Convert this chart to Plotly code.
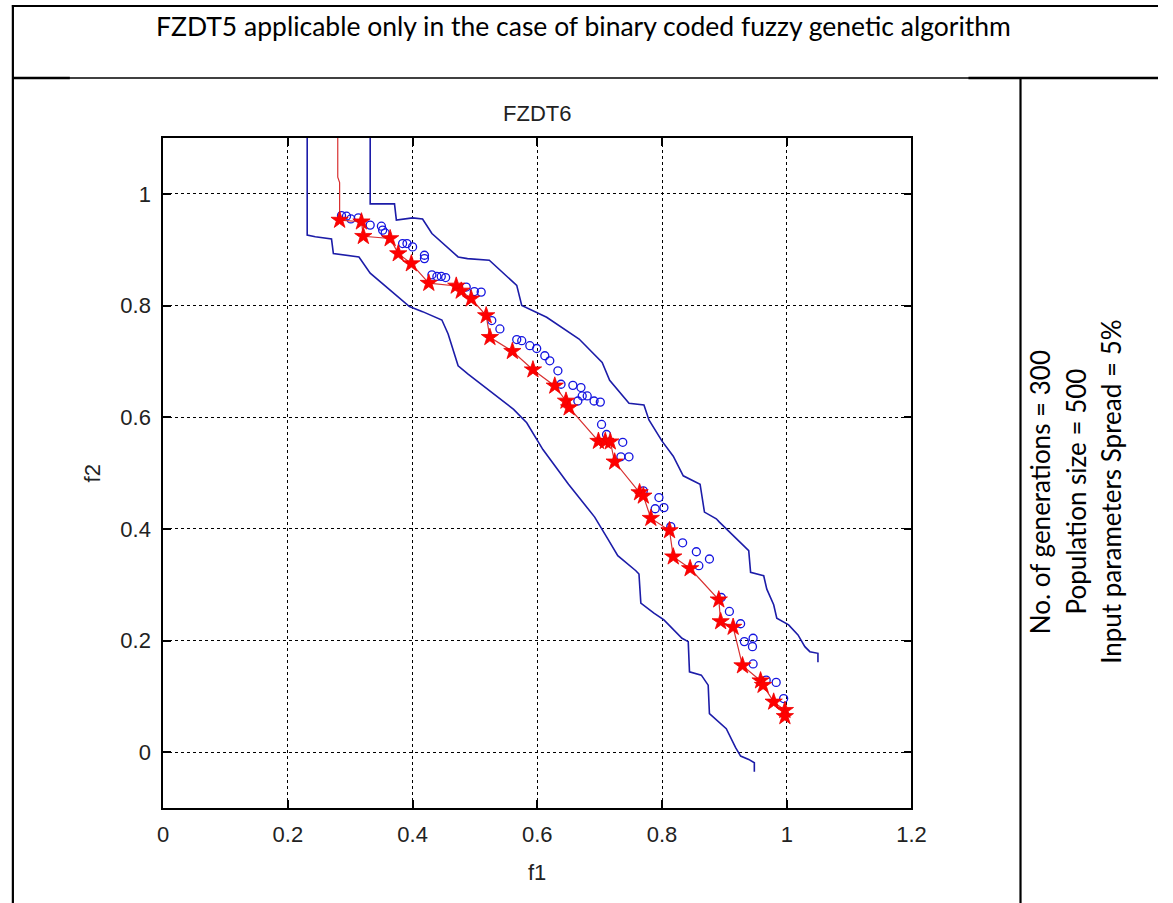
import plotly.graph_objects as go

W, H = 1173, 903

# ---------------- data ----------------
# red solution front (stars joined by a line), first points = vertical tail at top
red_f1 = [0.280, 0.280, 0.283, 0.283, 0.318, 0.321, 0.364, 0.377, 0.398, 0.426, 0.470, 0.478,
          0.494, 0.518, 0.524, 0.560, 0.593, 0.628, 0.646, 0.651, 0.698, 0.709, 0.717,
          0.724, 0.764, 0.770, 0.782, 0.812, 0.818, 0.845, 0.891, 0.894, 0.914, 0.929,
          0.958, 0.962, 0.979, 0.997, 0.997]
red_f2 = [1.100, 1.030, 1.020, 0.953, 0.950, 0.924, 0.920, 0.893, 0.875, 0.840, 0.835, 0.826,
          0.812, 0.782, 0.743, 0.718, 0.685, 0.656, 0.629, 0.617, 0.557, 0.557, 0.556,
          0.520, 0.465, 0.459, 0.419, 0.397, 0.350, 0.329, 0.273, 0.234, 0.224, 0.155,
          0.128, 0.120, 0.090, 0.075, 0.064]
n_red_tail = 3  # points without a star marker

# blue open circles
blue_f1 = [0.286, 0.294, 0.301, 0.313, 0.332, 0.350, 0.352, 0.356, 0.384, 0.391, 0.400, 0.419,
           0.419, 0.431, 0.439, 0.446, 0.453, 0.486, 0.499, 0.510, 0.527, 0.540, 0.567, 0.575,
           0.588, 0.599, 0.612, 0.620, 0.633, 0.638, 0.657, 0.670, 0.672, 0.680, 0.665, 0.691,
           0.701, 0.703, 0.711, 0.737, 0.734, 0.747, 0.770, 0.795, 0.789, 0.803, 0.814, 0.833,
           0.855, 0.876, 0.859, 0.895, 0.908, 0.926, 0.932, 0.946, 0.945, 0.946, 0.967, 0.983,
           0.995]
blue_f2 = [0.961, 0.960, 0.955, 0.957, 0.944, 0.942, 0.935, 0.930, 0.911, 0.911, 0.905, 0.890,
           0.884, 0.855, 0.852, 0.852, 0.850, 0.833, 0.825, 0.824, 0.773, 0.758, 0.739, 0.737,
           0.728, 0.723, 0.710, 0.701, 0.683, 0.659, 0.657, 0.653, 0.638, 0.638, 0.629, 0.629,
           0.627, 0.587, 0.569, 0.555, 0.529, 0.529, 0.468, 0.456, 0.436, 0.438, 0.404, 0.375,
           0.359, 0.346, 0.334, 0.277, 0.252, 0.230, 0.198, 0.204, 0.189, 0.158, 0.129, 0.125,
           0.096]

# lower (left) boundary line
low_f1 = [0.231, 0.231, 0.244, 0.270, 0.273, 0.314, 0.332, 0.395, 0.416, 0.447, 0.457, 0.473,
          0.489, 0.562, 0.583, 0.609, 0.650, 0.692, 0.713, 0.729, 0.758, 0.763, 0.766, 0.787,
          0.803, 0.832, 0.842, 0.844, 0.863, 0.874, 0.876, 0.903, 0.918, 0.926, 0.939, 0.948,
          0.948]
low_f2 = [1.100, 0.926, 0.923, 0.919, 0.893, 0.887, 0.858, 0.798, 0.789, 0.774, 0.749, 0.692,
          0.677, 0.614, 0.590, 0.542, 0.480, 0.421, 0.382, 0.352, 0.325, 0.319, 0.267, 0.249,
          0.237, 0.204, 0.198, 0.144, 0.138, 0.120, 0.069, 0.042, 0.008, -0.007, -0.013,
          -0.019, -0.035]

# upper (right) boundary line
up_f1 = [0.332, 0.332, 0.371, 0.374, 0.400, 0.416, 0.431, 0.473, 0.488, 0.523, 0.567, 0.575,
         0.615, 0.667, 0.704, 0.716, 0.747, 0.771, 0.779, 0.800, 0.818, 0.834, 0.861, 0.868,
         0.887, 0.892, 0.939, 0.942, 0.963, 0.968, 0.979, 0.984, 1.003, 1.018, 1.029, 1.037,
         1.050, 1.050]
up_f2 = [1.100, 0.982, 0.982, 0.953, 0.957, 0.955, 0.929, 0.887, 0.884, 0.881, 0.836, 0.800,
         0.779, 0.740, 0.698, 0.666, 0.625, 0.622, 0.595, 0.557, 0.530, 0.495, 0.480, 0.430,
         0.418, 0.412, 0.361, 0.322, 0.316, 0.292, 0.264, 0.240, 0.228, 0.210, 0.189, 0.180,
         0.177, 0.161]

x_ticks = [0, 0.2, 0.4, 0.6, 0.8, 1.0, 1.2]
x_tick_text = ["0", "0.2", "0.4", "0.6", "0.8", "1", "1.2"]
y_ticks = [0, 0.2, 0.4, 0.6, 0.8, 1.0]
y_tick_text = ["0", "0.2", "0.4", "0.6", "0.8", "1"]

header_text = "FZDT5 applicable only in the case of binary coded fuzzy genetic algorithm"
plot_title = "FZDT6"
side_lines = ["No. of generations = 300", "Population size = 500",
              "Input parameters Spread = 5%"]


def px(x):
    return x / W


def py(y):
    return 1 - y / H


DOC_FONT = "Lato, Carlito, Calibri, 'Open Sans', sans-serif"
MAT_FONT = "'Liberation Sans', Arial, Helvetica, sans-serif"
BLUE_LINE = "#1c1ca8"

fig = go.Figure()

fig.add_trace(go.Scatter(x=low_f1, y=low_f2, mode="lines",
                         line=dict(color=BLUE_LINE, width=1.6), hoverinfo="skip"))
fig.add_trace(go.Scatter(x=up_f1, y=up_f2, mode="lines",
                         line=dict(color=BLUE_LINE, width=1.6), hoverinfo="skip"))
fig.add_trace(go.Scatter(x=blue_f1, y=blue_f2, mode="markers",
                         marker=dict(symbol="circle-open", size=8, color="#1515e0",
                                     line=dict(width=1.3, color="#1515e0"))))
fig.add_trace(go.Scatter(x=red_f1, y=red_f2, mode="lines",
                         line=dict(color="#d83030", width=1.2), hoverinfo="skip"))
fig.add_trace(go.Scatter(x=red_f1[n_red_tail:], y=red_f2[n_red_tail:], mode="markers",
                         marker=dict(symbol="star", size=13, color="#ff0000",
                                     line=dict(width=0.8, color="#ee0000"))))

x0, x1 = 160, 922
y0, y1 = 138, 808

axis_common = dict(
    showline=True, linecolor="black", linewidth=1.6, mirror="ticks",
    ticks="inside", ticklen=8, tickwidth=1.6, tickcolor="black",
    showgrid=True, gridcolor="black", gridwidth=1, griddash="dot",
    zeroline=False,
    tickfont=dict(family=MAT_FONT, size=22, color="#222222"),
)

fig.update_layout(
    width=W, height=H,
    margin=dict(l=0, r=0, t=0, b=0),
    paper_bgcolor="white", plot_bgcolor="white",
    showlegend=False,
    xaxis=dict(domain=[px(x0), px(x1)], range=[0, 1.2], tickvals=x_ticks,
               ticktext=x_tick_text, ticklabelstandoff=6, **axis_common),
    yaxis=dict(domain=[py(y1), py(y0)], range=[-0.1, 1.1], tickvals=y_ticks,
               ticktext=y_tick_text, ticklabelstandoff=6, **axis_common),
)

# table lines
shapes = []


def hline(y, xa, xb, w):
    shapes.append(dict(type="line", xref="paper", yref="paper", x0=px(xa), x1=px(xb),
                       y0=py(y), y1=py(y), line=dict(color="black", width=w)))


def vline(x, ya, yb, w):
    shapes.append(dict(type="line", xref="paper", yref="paper", x0=px(x), x1=px(x),
                       y0=py(ya), y1=py(yb), line=dict(color="black", width=w)))


hline(6, 6, W, 2.2)
vline(7, 5, H, 2.2)
hline(78, 7, W, 1.4)
hline(78, 7, 65, 2.4)
hline(78, 980, W, 2.4)
vline(1033, 77, H, 2.2)
fig.update_layout(shapes=shapes)

ann = []
ann.append(dict(text=header_text, x=px(588), y=py(26), xref="paper", yref="paper",
                showarrow=False, xanchor="center", yanchor="middle",
                font=dict(family=DOC_FONT, size=26.5, color="black")))
ann.append(dict(text=plot_title, x=px(541), y=py(114), xref="paper", yref="paper",
                showarrow=False, xanchor="center", yanchor="middle",
                font=dict(family=MAT_FONT, size=22, color="#222222")))
ann.append(dict(text="f1", x=px(541), y=py(872), xref="paper", yref="paper",
                showarrow=False, xanchor="center", yanchor="middle",
                font=dict(family=MAT_FONT, size=22, color="#222222")))
ann.append(dict(text="f2", x=px(88), y=py(473), xref="paper", yref="paper",
                showarrow=False, xanchor="center", yanchor="middle", textangle=-90,
                font=dict(family=MAT_FONT, size=22, color="#222222")))
for xc, t in zip([1053, 1089, 1125], side_lines):
    ann.append(dict(text=t, x=px(xc), y=py(492), xref="paper", yref="paper",
                    showarrow=False, xanchor="center", yanchor="middle", textangle=-90,
                    font=dict(family=DOC_FONT, size=26, color="black")))
fig.update_layout(annotations=ann)

fig.write_html("out.html")
